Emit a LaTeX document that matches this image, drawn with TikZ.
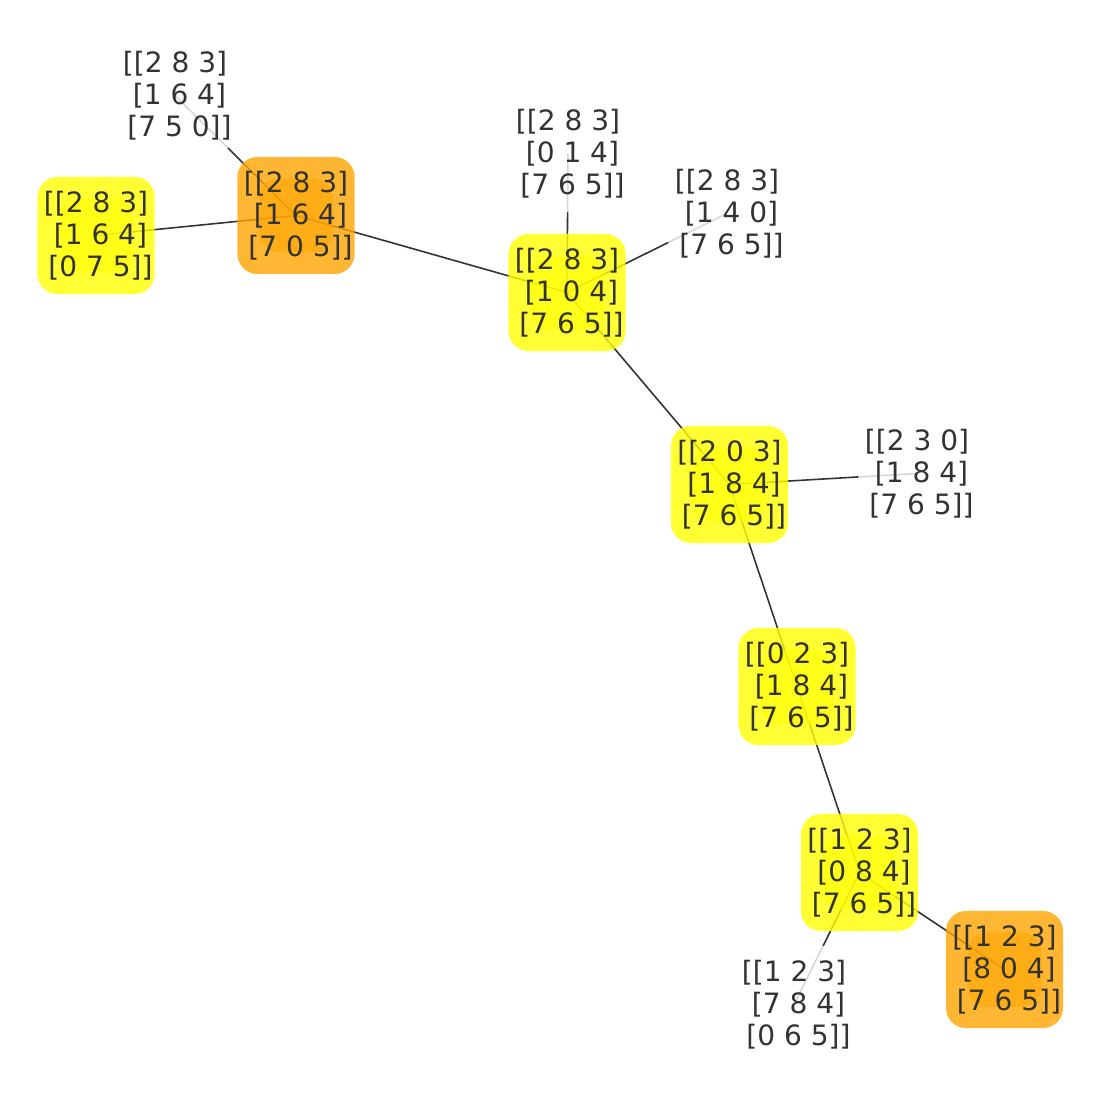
\documentclass[tikz,border=0pt]{standalone}
\usepackage{fontspec}
\setmainfont{DejaVu Sans}
\pgfdeclarelayer{background}
\pgfsetlayers{background,main}
\definecolor{nyellow}{HTML}{FFFF00}
\definecolor{norange}{HTML}{FFA500}
\definecolor{txtc}{HTML}{333333}
\definecolor{edgec}{HTML}{333333}
\newcommand{\lsp}{\mbox{\ }}
\begin{document}
\begin{tikzpicture}[x=0.01cm,y=-0.01cm,
  lbl/.style={rounded corners=0.2cm, minimum width=1.17cm, minimum height=1.17cm,
    inner sep=0pt, align=center, text=txtc, fill opacity=0.8, text opacity=1,
    font=\fontsize{7.97pt}{9.1pt}\selectfont},
  plainlbl/.style={lbl, fill=white},
  marker/.style={path picture={\fill[#1, fill opacity=0.55]
      ([xshift=-0.37cm,yshift=-0.37cm]path picture bounding box.center) rectangle
      ([xshift=0.37cm,yshift=0.37cm]path picture bounding box.center);}},
  ystate/.style={lbl, fill=nyellow, marker=nyellow},
  ostate/.style={lbl, fill=norange, marker=norange},
  link/.style={draw=edgec, line width=0.45pt}]
\useasboundingbox (0,0) rectangle (1100,1100);

\node[ystate]   (A) at (96,235.5)   {[[2 8 3]\\\lsp[1 6 4]\\\lsp[0 7 5]]};
\node[ostate]   (B) at (296,215.5)  {[[2 8 3]\\\lsp[1 6 4]\\\lsp[7 0 5]]};
\node[plainlbl] (C) at (175,95.5)   {[[2 8 3]\\\lsp[1 6 4]\\\lsp[7 5 0]]};
\node[ystate]   (D) at (567,292.5)  {[[2 8 3]\\\lsp[1 0 4]\\\lsp[7 6 5]]};
\node[plainlbl] (E) at (568,153.5)  {[[2 8 3]\\\lsp[0 1 4]\\\lsp[7 6 5]]};
\node[plainlbl] (F) at (727,213.5)  {[[2 8 3]\\\lsp[1 4 0]\\\lsp[7 6 5]]};
\node[ystate]   (G) at (729.5,484.5){[[2 0 3]\\\lsp[1 8 4]\\\lsp[7 6 5]]};
\node[plainlbl] (H) at (917,473.5)  {[[2 3 0]\\\lsp[1 8 4]\\\lsp[7 6 5]]};
\node[ystate]   (I) at (797,686.5)  {[[0 2 3]\\\lsp[1 8 4]\\\lsp[7 6 5]]};
\node[ystate]   (J) at (859.5,872.5){[[1 2 3]\\\lsp[0 8 4]\\\lsp[7 6 5]]};
\node[ostate]   (K) at (1004.5,969.5){[[1 2 3]\\\lsp[8 0 4]\\\lsp[7 6 5]]};
\node[plainlbl] (L) at (794,1004.5) {[[1 2 3]\\\lsp[7 8 4]\\\lsp[0 6 5]]};

\begin{pgfonlayer}{background}
\draw[link] (A.center) -- (B.center);
\draw[link] (B.center) -- (C.center);
\draw[link] (B.center) -- (D.center);
\draw[link] (D.center) -- (E.center);
\draw[link] (D.center) -- (F.center);
\draw[link] (D.center) -- (G.center);
\draw[link] (G.center) -- (H.center);
\draw[link] (G.center) -- (I.center);
\draw[link] (I.center) -- (J.center);
\draw[link] (J.center) -- (K.center);
\draw[link] (J.center) -- (L.center);
\end{pgfonlayer}
\end{tikzpicture}
\end{document}
